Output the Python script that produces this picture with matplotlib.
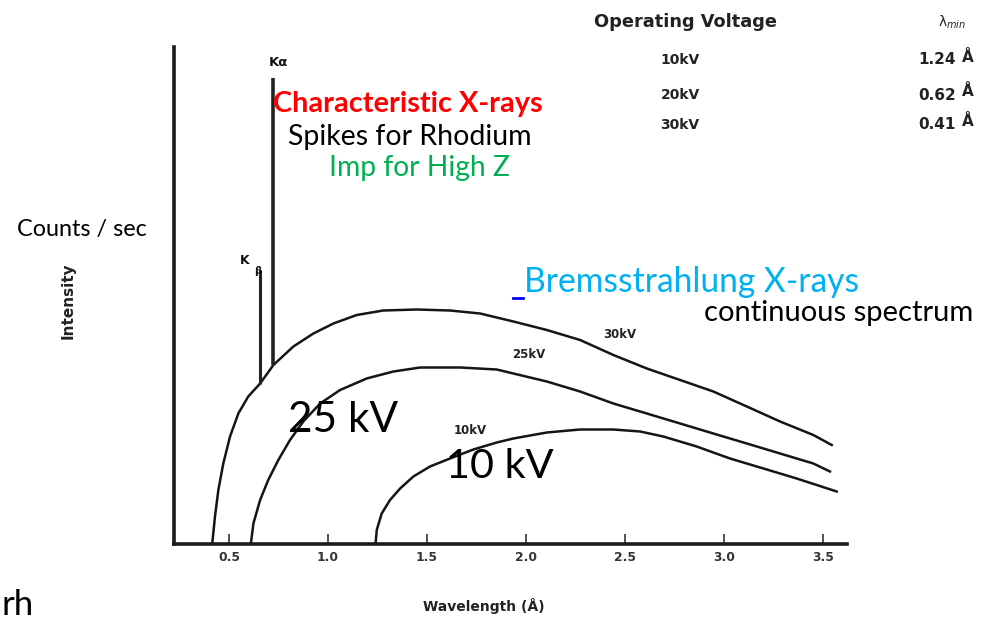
import numpy as np
import matplotlib
matplotlib.use("Agg")
import matplotlib.pyplot as plt
from matplotlib.lines import Line2D

# ---------------- data ----------------
lam_30 = [0.415, 0.429, 0.446, 0.471, 0.505, 0.547, 0.597, 0.657, 0.724, 0.825, 0.926, 1.027,
          1.145, 1.279, 1.448, 1.616, 1.768, 1.936, 2.105, 2.273, 2.441, 2.61, 2.778, 2.946,
          3.115, 3.283, 3.451, 3.544]
int_30 = [0.0, 5.5, 10.8, 16.1, 21.5, 26.1, 29.5, 32.1, 35.8, 39.5, 42.1, 44.1,
          45.8, 46.7, 46.9, 46.7, 46.1, 44.5, 42.8, 40.8, 37.8, 35.1, 32.8, 30.5,
          27.5, 24.5, 21.8, 19.8]

lam_25 = [0.61, 0.623, 0.657, 0.698, 0.749, 0.808, 0.875, 0.96, 1.061, 1.195, 1.33, 1.465,
          1.667, 1.852, 1.936, 2.105, 2.273, 2.441, 2.61, 2.778, 2.946, 3.115, 3.283, 3.451, 3.535]
int_25 = [0.0, 4.1, 8.8, 12.8, 16.8, 20.8, 24.5, 28.1, 30.8, 33.1, 34.5, 35.3,
          35.3, 34.9, 34.1, 32.5, 30.5, 28.1, 26.1, 24.1, 22.1, 20.1, 18.1, 16.1, 14.5]

lam_10 = [1.24, 1.246, 1.271, 1.313, 1.364, 1.431, 1.515, 1.616, 1.734, 1.852, 1.936, 2.105,
          2.273, 2.441, 2.576, 2.693, 2.862, 3.03, 3.199, 3.367, 3.569]
int_10 = [0.0, 2.8, 6.1, 8.8, 11.1, 13.5, 15.5, 17.1, 18.9, 20.3, 21.1, 22.3,
          22.9, 22.9, 22.5, 21.5, 19.5, 17.1, 15.1, 13.1, 10.5]

spike_labels = ["K\u03b2", "K\u03b1"]
spike_lam = [0.657, 0.724]
spike_peak = [54.8, 93.2]

xticks = [0.5, 1.0, 1.5, 2.0, 2.5, 3.0, 3.5]
xtick_labels = ["0.5", "1.0", "1.5", "2.0", "2.5", "3.0", "3.5"]

table_voltages = ["10kV", "20kV", "30kV"]
table_lmin = ["1.24", "0.62", "0.41"]

curve_labels = ["30kV", "25kV", "10kV"]
curve_label_pos = [(2.475, 42.0), (2.015, 38.0), (1.717, 22.8)]

# ---------------- figure ----------------
W, H = 992, 623
fig = plt.figure(figsize=(W / 100, H / 100), dpi=100)
FONT = ["Lato", "DejaVu Sans"]
SMALL = "DejaVu Sans"

def px(x, y):
    return x / W, 1 - y / H

# axes: x 0.22..3.62 => px 173.6..846.8 ; y 0..99.4 => px 544..47
ax_left, ax_right = 173.6, 846.8
ax_top, ax_bot = 47, 544
ax = fig.add_axes([ax_left / W, 1 - ax_bot / H, (ax_right - ax_left) / W, (ax_bot - ax_top) / H])
ax.set_xlim(0.22, 3.62)
ax.set_ylim(0, 99.4)

ink = "#151515"
for lx, ly in [(lam_30, int_30), (lam_25, int_25), (lam_10, int_10)]:
    ax.plot(lx, ly, color=ink, lw=1.8, solid_joinstyle="round")

for lab, l, pk in zip(spike_labels, spike_lam, spike_peak):
    base = np.interp(l, lam_30, int_30)
    ax.vlines(l, base, pk, color="#222222", lw=2.6 if lab == "K\u03b1" else 2.2)

ax.text(0.747, 96.4, "K\u03b1", fontsize=9.5, fontweight="bold",
        color="#111111", ha="center", va="center", family=SMALL)
ax.text(0.58, 56.8, "K", fontsize=9, fontweight="bold",
        color="#111111", ha="center", va="center", family=SMALL)
ax.text(0.646, 54.6, "\u03b2", fontsize=7.5, fontweight="bold",
        color="#111111", ha="center", va="center", family=SMALL)

for lab, (xl, yl) in zip(curve_labels, curve_label_pos):
    ax.text(xl, yl, lab, fontsize=8.5, fontweight="bold", color="#222222",
            ha="center", va="center", family=SMALL)

for s in ["top", "right"]:
    ax.spines[s].set_visible(False)
for s in ["left", "bottom"]:
    ax.spines[s].set_linewidth(2.6)
    ax.spines[s].set_color("#1a1a1a")
ax.set_yticks([])
ax.set_xticks(xticks)
ax.set_xticklabels(xtick_labels, fontsize=8.8, fontweight="bold", color="#333333", family=SMALL)
ax.tick_params(axis="x", direction="in", length=7, width=1.3, pad=5, color="#444444")

ax.set_xlabel("Wavelength (\u00c5)", fontsize=10, fontweight="bold", color="#222222", family=SMALL)
ax.xaxis.set_label_coords((484 - ax_left) / (ax_right - ax_left), -(606 - ax_bot) / (ax_bot - ax_top))
ax.xaxis.label.set_va("center")
ax.set_ylabel("Intensity", fontsize=11, fontweight="bold", color="#222222", family=SMALL)
ax.yaxis.set_label_coords(-(ax_left - 68) / (ax_right - ax_left), (ax_bot - 301) / (ax_bot - ax_top))
ax.yaxis.label.set_va("center")

# ---------------- table ----------------
fig.text(*px(686, 22), "Operating Voltage", fontsize=12.8, fontweight="bold", color="#222222",
         ha="center", va="center", family=SMALL)
fig.text(*px(952, 22), "\u03bb$_{min}$", fontsize=10, color="#222222",
         ha="center", va="center", family=SMALL)
for i, (v, l) in enumerate(zip(table_voltages, table_lmin)):
    yy = [60, 95, 125][i]
    fig.text(*px(680, yy), v, fontsize=10, fontweight="bold", color="#222222",
             ha="center", va="center", family=SMALL)
    fig.text(*px(956, yy), l, fontsize=11, fontweight="bold", color="#222222",
             ha="right", va="center", family=SMALL)
    fig.text(*px(968, yy - 3), "\u00c5", fontsize=11, fontweight="bold", color="#222222",
             ha="center", va="center", family=SMALL)

# ---------------- annotations ----------------
fig.text(*px(408, 104), "Characteristic X-rays", fontsize=20.8, fontweight="bold", color="#FF0000",
         ha="center", va="center", family=FONT)
fig.text(*px(410, 137), "Spikes for Rhodium", fontsize=20.5, color="#000000",
         ha="center", va="center", family=FONT)
fig.text(*px(419, 168), "Imp for High Z", fontsize=20.3, color="#00B050",
         ha="center", va="center", family=FONT)
fig.text(*px(82, 230), "Counts / sec", fontsize=16.8, color="#000000",
         ha="center", va="center", family=FONT)
fig.text(*px(692, 282), "Bremsstrahlung X-rays", fontsize=24.2, color="#00B0F0",
         ha="center", va="center", family=FONT)
fig.add_artist(Line2D([513 / W, 523 / W], [1 - 298 / H, 1 - 298 / H], color="#0000FF", lw=2))
fig.text(*px(839, 313), "continuous spectrum", fontsize=21, color="#000000",
         ha="center", va="center", family=FONT)
fig.text(*px(343, 420), "25 kV", fontsize=30.4, color="#000000",
         ha="center", va="center", family=FONT)
fig.text(*px(500, 467), "10 kV", fontsize=29.8, color="#000000",
         ha="center", va="center", family=FONT)
fig.text(*px(1, 605), "rh", fontsize=25, color="#000000",
         ha="left", va="center", family=FONT)

fig.savefig("out.png", dpi=100, facecolor="white")
